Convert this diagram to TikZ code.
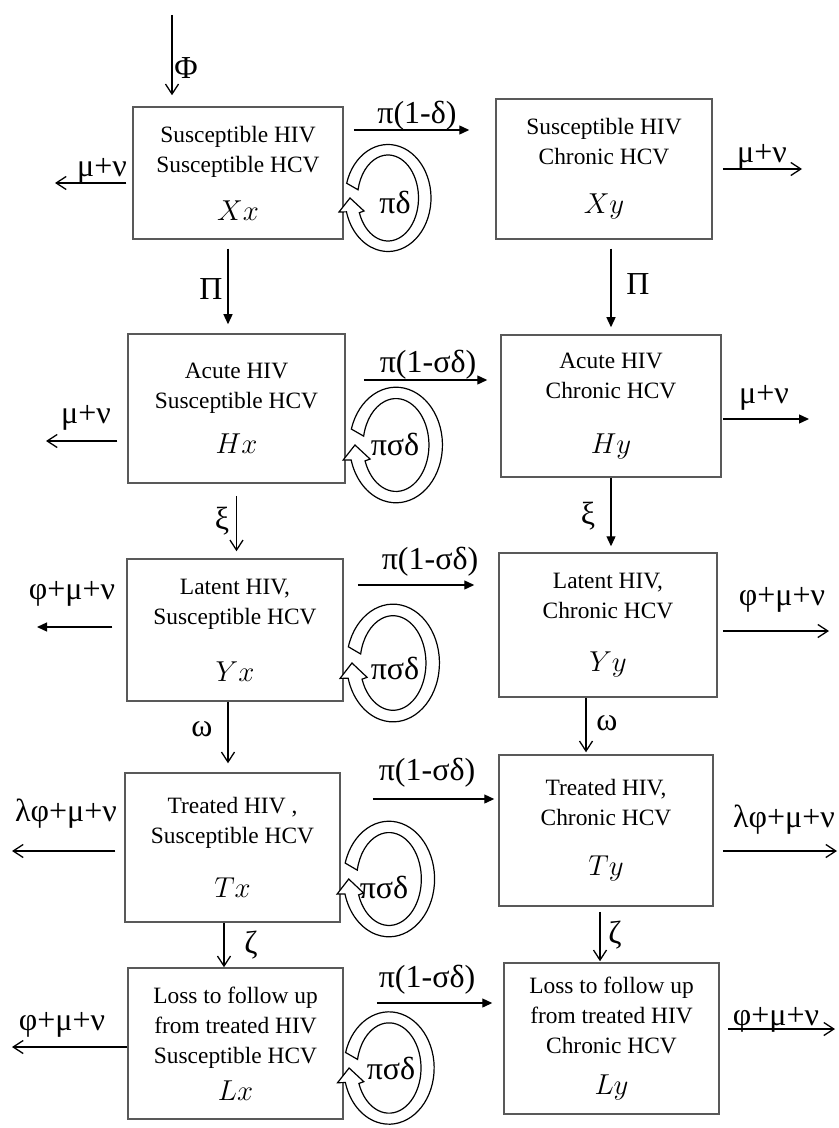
\documentclass[tikz,border=0pt]{standalone}
\usepackage{fontspec}
\setmainfont{Liberation Serif}
\usetikzlibrary{arrows.meta}
\tikzset{
  comp/.style={draw=black!65, line width=0.75pt, align=center, inner sep=2pt, font=\fontsize{11.7}{15}\selectfont},
  lbl/.style={inner sep=0pt, font=\fontsize{16}{18}\selectfont},
  openarr/.style={line width=0.65pt, -{Straight Barb[length=5pt,width=6.5pt]}},
  fillarr/.style={line width=0.65pt, -{Triangle[length=5pt,width=4.5pt]}},
  loopring/.style={line width=0.6pt, fill=white}
}
\def\cls#1{{\fontsize{14}{15}\selectfont$#1$}}
\def\selfloop(#1)[#2]{\draw[loopring,shift={(#1)},#2] (164:4.3 and 5.35) arc[start angle=164,end angle=-165,x radius=4.3,y radius=5.35] -- (-4.9,-1.4) -- (-3.8,0.0) -- (-2.4,-1.3) -- (-160:3.05 and 4.3) arc[start angle=-160,end angle=169,x radius=3.05,y radius=4.3] -- cycle;}
\begin{document}
\begin{tikzpicture}[x=5pt,y=5pt]
			%%%%% START %%%%%
			\useasboundingbox (0,0) rectangle (83.9,-112.8);
			
			\node[comp, minimum width=105pt, minimum height=66pt] (Xx) at (23.8, -17.3) {Susceptible HIV\\Susceptible HCV\\[9pt]\cls{Xx}};
			\node[comp, minimum width=108pt, minimum height=70pt] (Xy) at (60.4, -16.9) {Susceptible HIV\\Chronic HCV\\[9.5pt]\cls{Xy}};
			\node[comp, minimum width=108.5pt, minimum height=74.5pt] (Hx) at (23.65, -40.85) {Acute HIV\\Susceptible HCV\\[7.5pt]\cls{Hx}};
			\node[comp, minimum width=110pt, minimum height=71pt] (Hy) at (61.1, -40.6) {Acute HIV\\Chronic HCV\\[12.5pt]\cls{Hy}};
			\node[comp, minimum width=108pt, minimum height=71pt] (Yx) at (23.5, -63.0) {Latent HIV,\\Susceptible HCV\\[13.5pt]\cls{Yx}};
			\node[comp, minimum width=109pt, minimum height=72pt] (Yy) at (60.8, -62.5) {Latent HIV,\\Chronic HCV\\[11.5pt]\cls{Yy}};
			\node[comp, minimum width=107.5pt, minimum height=74.5pt] (Tx) at (23.25, -84.75) {Treated HIV ,\\Susceptible HCV\\[12pt]\cls{Tx}};
			\node[comp, minimum width=107pt, minimum height=75.5pt] (Ty) at (60.6, -83.05) {Treated HIV,\\Chronic HCV\\[10pt]\cls{Ty}};
			\node[comp, minimum width=107.5pt, minimum height=75.5pt] (Lx) at (23.55, -104.35) {Loss to follow up\\from treated HIV\\Susceptible HCV\\[3.5pt]\cls{Lx}};
			\node[comp, minimum width=107.5pt, minimum height=75.5pt] (Ly) at (61.15, -103.85) {Loss to follow up\\from treated HIV\\Chronic HCV\\[5.5pt]\cls{Ly}};
			
			\coordinate (phiin) at (17.2, -1.5);
			\draw[openarr, shorten >=5.5pt] (phiin) -- (phiin |- Xx.north);
			\node[lbl] (lphi) at (18.6, -6.8) {Φ};
			
			\draw[fillarr, shorten <=4.5pt, shorten >=4.5pt] ([xshift=-5pt]Xx.south) -- ([xshift=-5pt]Xx.south |- Hx.north);
			\node[lbl] (lpix) at (21.1, -28.9) {Π};
			\draw[fillarr, shorten <=4.5pt, shorten >=3.5pt] ([xshift=3.5pt]Xy.south) -- ([xshift=3.5pt]Xy.south |- Hy.north);
			\node[lbl] (lpiy) at (63.8, -28.4) {Π};
			\draw[openarr, shorten <=6pt, shorten >=3.5pt] (Hx.south) -- (Hx.south |- Yx.north);
			\node[lbl] (lxix) at (22.2, -52.1) {ξ};
			\draw[fillarr, shorten >=3pt] (Hy.south) -- (Hy.south |- Yy.north);
			\node[lbl] (lxiy) at (58.8, -51.6) {ξ};
			\draw[openarr, shorten >=4.5pt] ([xshift=-3.5pt]Yx.south) -- ([xshift=-3.5pt]Yx.south |- Tx.north);
			\node[lbl] (lomx) at (20.2, -72.9) {ω};
			\draw[openarr, shorten >=1pt] ([xshift=-11pt]Yy.south) -- ([xshift=-11pt]Yy.south |- Ty.north);
			\node[lbl] (lomy) at (60.7, -72.3) {ω};
			\draw[openarr] ([xshift=-4.25pt]Tx.south) -- ([xshift=-4.25pt]Tx.south |- Lx.north);
			\node[lbl] (lzex) at (25.1, -94.5) {ζ};
			\draw[openarr, shorten <=2.5pt, shorten >=0.5pt] ([xshift=-3pt]Ty.south) -- ([xshift=-3pt]Ty.south |- Ly.north);
			\node[lbl] (lzey) at (61.5, -93.5) {ζ};
			
			\draw[fillarr, shorten <=5pt, shorten >=13pt] ([yshift=21.5pt]Xx.east) -- ([yshift=21.5pt]Xx.east -| Xy.west);
			\node[lbl] (lXX) at (41.7, -11.6) {π(1-δ)};
			\draw[fillarr, shorten <=9pt, shorten >=6.5pt] ([yshift=14.25pt]Hx.east) -- ([yshift=14.25pt]Hx.east -| Hy.west);
			\node[lbl] (lHH) at (42.8, -36.5) {π(1-σδ)};
			\draw[fillarr, shorten <=7pt, shorten >=12pt] ([yshift=22.5pt]Yx.east) -- ([yshift=22.5pt]Yx.east -| Yy.west);
			\node[lbl] (lYY) at (43.0, -56.2) {π(1-σδ)};
			\draw[fillarr, shorten <=16pt, shorten >=2pt] ([yshift=24.25pt]Tx.east) -- ([yshift=24.25pt]Tx.east -| Ty.west);
			\node[lbl] (lTT) at (42.7, -77.3) {π(1-σδ)};
			\draw[fillarr, shorten <=16.5pt, shorten >=5.5pt] ([yshift=20.25pt]Lx.east) -- ([yshift=20.25pt]Lx.east -| Ly.west);
			\node[lbl] (lLL) at (42.7, -98.0) {π(1-σδ)};
			
			\coordinate (xxout) at (5.5, -18.3);
			\draw[openarr, shorten <=3pt] (Xx.west |- xxout) -- (xxout);
			\node[lbl] (lxxout) at (10.2, -17.1) {μ+ν};
			\coordinate (xyout) at (80.2, -16.9);
			\draw[openarr, shorten <=5pt] (Xy.east |- xyout) -- (xyout);
			\node[lbl] (lxyout) at (76.2, -15.7) {μ+ν};
			\coordinate (hxout) at (4.6, -44.1);
			\draw[openarr, shorten <=5pt] (Hx.west |- hxout) -- (hxout);
			\node[lbl] (lhxout) at (8.6, -41.8) {μ+ν};
			\coordinate (hyout) at (80.9, -41.9);
			\draw[fillarr, shorten <=0.5pt] (Hy.east |- hyout) -- (hyout);
			\node[lbl] (lhyout) at (76.4, -39.8) {μ+ν};
			\coordinate (yxout) at (3.7, -62.7);
			\draw[fillarr, shorten <=7pt] (Yx.west |- yxout) -- (yxout);
			\node[lbl] (lyxout) at (7.2, -59.4) {φ+μ+ν};
			\coordinate (yyout) at (82.9, -63.1);
			\draw[openarr, shorten <=2.5pt] (Yy.east |- yyout) -- (yyout);
			\node[lbl] (lyyout) at (78.2, -60.0) {φ+μ+ν};
			\coordinate (txout) at (1.2, -85.1);
			\draw[openarr, shorten <=4.5pt] (Tx.west |- txout) -- (txout);
			\node[lbl] (ltxout) at (6.6, -81.4) {λφ+μ+ν};
			\coordinate (tyout) at (83.7, -85.1);
			\draw[openarr, shorten <=4.5pt] (Ty.east |- tyout) -- (tyout);
			\node[lbl] (ltyout) at (78.4, -82.0) {λφ+μ+ν};
			\coordinate (lxout) at (1.2, -104.7);
			\draw[openarr] (Lx.west |- lxout) -- (lxout);
			\node[lbl] (llxout) at (6.2, -102.5) {φ+μ+ν};
			\coordinate (lyout) at (83.5, -102.9);
			\draw[openarr, shorten <=4pt] (Ly.east |- lyout) -- (lyout);
			\node[lbl] (llyout) at (77.6, -102.0) {φ+μ+ν};
			
			\coordinate (xxloop) at (38.8, -19.8);
			\selfloop(xxloop)[];
			\node[lbl] (lxxloop) at (39.5, -20.2) {πδ};
			\coordinate (hxloop) at (39.6, -44.5);
			\selfloop(hxloop)[xscale=1.08, yscale=1.08];
			\node[lbl] (lhxloop) at (39.5, -44.4) {πσδ};
			\coordinate (yxloop) at (39.3, -66.3);
			\selfloop(yxloop)[xscale=1.08, yscale=1.1];
			\node[lbl] (lyxloop) at (39.5, -66.8) {πσδ};
			\coordinate (txloop) at (38.9, -87.9);
			\selfloop(txloop)[xscale=1.06, yscale=1.08];
			\node[lbl] (ltxloop) at (38.4, -88.7) {πσδ};
			\coordinate (lxloop) at (38.9, -106.8);
			\selfloop(lxloop)[xscale=1.05, yscale=1.05];
			\node[lbl] (llxloop) at (39.1, -106.8) {πσδ};
			%%%%% END %%%%%
\end{tikzpicture}
\end{document}
